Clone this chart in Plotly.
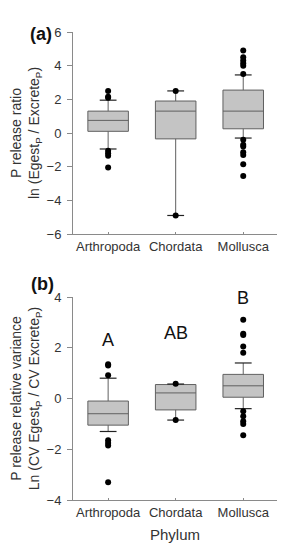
import plotly.graph_objects as go

categories = ["Arthropoda", "Chordata", "Mollusca"]

# Panel (a): P release ratio
a_q1 = [0.1, -0.35, 0.25]
a_median = [0.75, 1.3, 1.3]
a_q3 = [1.3, 1.9, 2.55]
a_low = [-0.95, -4.9, -0.3]
a_high = [1.95, 2.5, 3.45]
a_out_x = (["Arthropoda"] * 7 + ["Chordata"] * 2 + ["Mollusca"] * 13)
a_out_y = [2.5, 2.1, 2.15, -1.05, -1.2, -1.35, -2.05,
           2.5, -4.9,
           3.5, 4.0, 4.15, 4.3, 4.5, 4.9, -0.4, -0.7, -0.8, -1.15, -1.3, -1.85, -2.55]

# Panel (b): P release relative variance
b_q1 = [-1.05, -0.45, 0.05]
b_median = [-0.6, 0.22, 0.5]
b_q3 = [-0.1, 0.55, 0.95]
b_low = [-1.3, -0.85, -0.4]
b_high = [0.8, 0.57, 1.4]
b_out_x = (["Arthropoda"] * 7 + ["Chordata"] * 2 + ["Mollusca"] * 10)
b_out_y = [0.92, 1.3, 1.35, -1.65, -1.75, -1.85, -3.3,
           0.58, -0.85,
           1.8, 2.05, 2.5, 2.55, 3.1, -0.5, -0.7, -0.9, -1.0, -1.45]
b_letters = ["A", "AB", "B"]
b_letter_y = [2.3, 2.6, 3.95]

box_fill = "#c4c4c4"
box_line = "#606060"
axis_col = "#8a8a8a"
FAM = "Arial, Liberation Sans, sans-serif"
font = dict(family=FAM, size=13, color="#333333")
tfont = dict(family=FAM, size=14, color="#333333")

fig = go.Figure()

def add_panel(xa, ya, q1, med, q3, lo, hi, ox, oy):
    fig.add_trace(go.Box(x=categories, q1=q1, median=med, q3=q3,
                         lowerfence=lo, upperfence=hi, boxpoints=False,
                         width=0.6, fillcolor=box_fill,
                         line=dict(color=box_line, width=1),
                         whiskerwidth=0, xaxis=xa, yaxis=ya, showlegend=False,
                         hoverinfo="skip"))
    fig.add_trace(go.Scatter(x=categories + categories, y=lo + hi, mode="markers",
                             marker=dict(symbol="line-ew-open", size=12, color="#222222",
                                         line=dict(color="#222222", width=1.2)),
                             xaxis=xa, yaxis=ya, showlegend=False, hoverinfo="skip"))
    fig.add_trace(go.Scatter(x=ox, y=oy, mode="markers",
                             marker=dict(color="black", size=6),
                             xaxis=xa, yaxis=ya, showlegend=False, hoverinfo="skip"))

add_panel("x", "y", a_q1, a_median, a_q3, a_low, a_high, a_out_x, a_out_y)
add_panel("x2", "y2", b_q1, b_median, b_q3, b_low, b_high, b_out_x, b_out_y)

for cat, txt, yy in zip(categories, b_letters, b_letter_y):
    fig.add_annotation(x=cat, y=yy, xref="x2", yref="y2", text=txt, showarrow=False,
                       font=dict(family=FAM, size=18, color="#111111"))

# page body has an 8px margin: figure coordinates = screen coordinates - 8
OFF = 8
W, H = 286 - OFF, 550 - OFF
L, R = 73 - OFF, W - (277 - OFF)
PW = W - L - R

def ydom(top, bottom):
    return [1 - (bottom - OFF) / H, 1 - (top - OFF) / H]

fig.add_annotation(x=(28 - OFF - L) / PW, y=1 - (22 - OFF) / H, xref="paper", yref="paper",
                   text="<b>(a)</b>", showarrow=False,
                   font=dict(family=FAM, size=18, color="#111111"))
fig.add_annotation(x=(29 - OFF - L) / PW, y=1 - (284 - OFF) / H, xref="paper", yref="paper",
                   text="<b>(b)</b>", showarrow=False,
                   font=dict(family=FAM, size=18, color="#111111"))

xcommon = dict(type="category", categoryorder="array", categoryarray=categories,
               range=[-0.52, 2.5], showline=True, linecolor=axis_col, linewidth=1,
               ticks="inside", ticklen=2, tickcolor=axis_col, showgrid=False,
               zeroline=False, tickfont=font, automargin=False)
ycommon = dict(showline=True, linecolor=axis_col, linewidth=1, ticks="outside",
               ticklen=5, tickcolor=axis_col, showgrid=False, zeroline=False,
               tickfont=font, dtick=2, title_font=tfont, ticklabelstandoff=3,
               automargin=False)

fig.update_layout(
    width=W, height=H,
    margin=dict(l=L, r=R, t=0, b=0),
    paper_bgcolor="white", plot_bgcolor="white",
    font=font,
    xaxis=dict(xcommon, domain=[0, 1], anchor="y"),
    yaxis=dict(ycommon, domain=ydom(32, 234), range=[-6, 6], anchor="x",
               title=dict(text="P release ratio<br>ln (Egest<sub>P</sub> / Excrete<sub>P</sub>)", standoff=4)),
    xaxis2=dict(xcommon, domain=[0, 1], anchor="y2",
                title=dict(text="Phylum", font=dict(family=FAM, size=15, color="#333333"), standoff=10)),
    yaxis2=dict(ycommon, domain=ydom(297, 500), range=[-4, 4], anchor="x2",
                title=dict(text="P release relative variance<br>Ln (CV Egest<sub>P</sub> / CV Excrete<sub>P</sub>)", standoff=4)),
)

fig.write_html("out.html")
